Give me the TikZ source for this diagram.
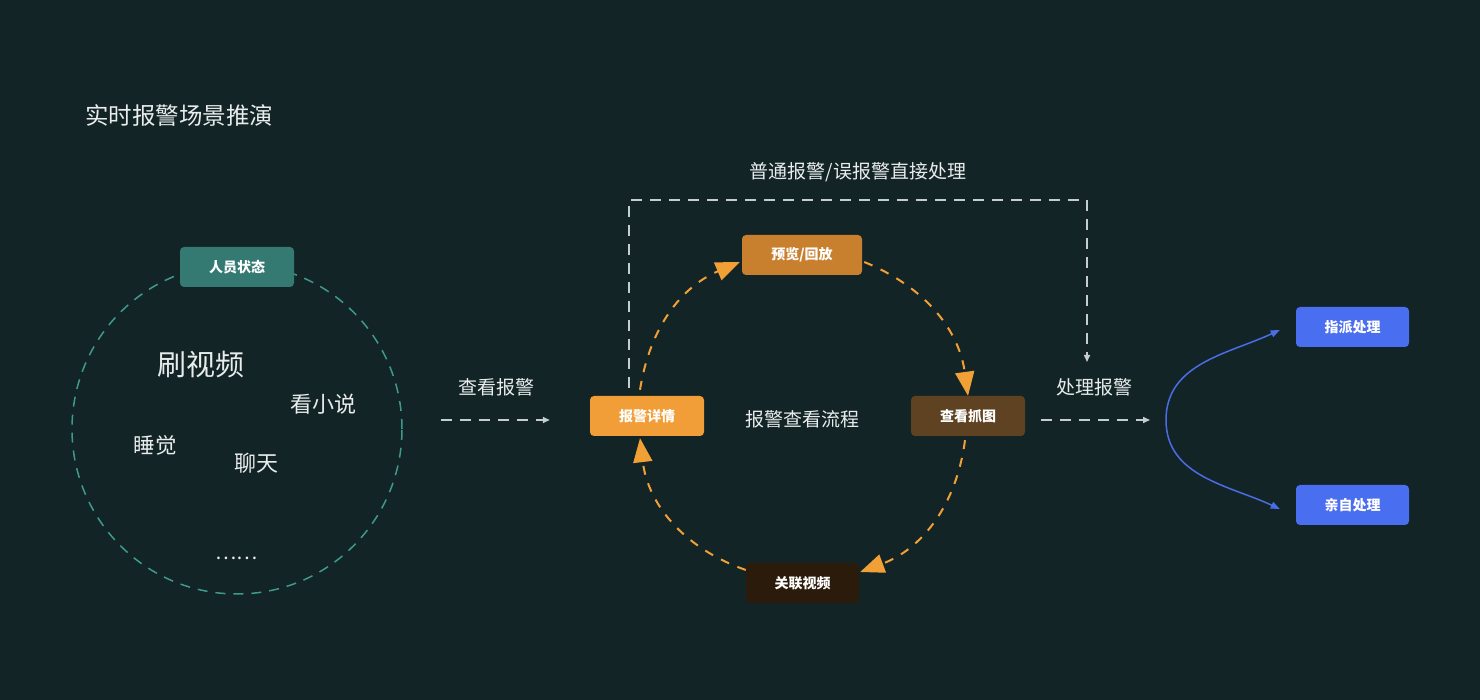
\documentclass[tikz,border=0pt]{standalone}
\usepackage{fontspec}
\newfontfamily\cjk{Noto Sans CJK SC}
\usetikzlibrary{arrows.meta,calc}
\definecolor{bgc}{RGB}{19,36,39}
\definecolor{txt}{RGB}{232,236,236}
\definecolor{ringc}{RGB}{62,154,138}
\definecolor{tealbox}{RGB}{52,122,114}
\definecolor{orline}{RGB}{240,160,53}
\definecolor{detailc}{RGB}{242,158,56}
\definecolor{previewc}{RGB}{201,128,46}
\definecolor{snapc}{RGB}{94,66,33}
\definecolor{videoc}{RGB}{43,27,11}
\definecolor{greyd}{RGB}{197,205,208}
\definecolor{bluec}{RGB}{74,110,240}
\definecolor{bluel}{RGB}{74,108,230}
\newcommand\fsz[1]{\fontsize{#1}{#1}\selectfont}
\tikzset{
  box/.style={rectangle, rounded corners=4pt, minimum width=114pt, minimum height=40pt,
    inner sep=0pt, text=white, font=\cjk\bfseries\fsz{14}},
  lbl/.style={text=txt, inner sep=0pt},
  orarrow/.style={draw=orline, line width=2pt, dash pattern=on 9pt off 9pt,
    -{Triangle[length=24pt,width=19pt]}},
  greydash/.style={draw=greyd, line width=1.5pt, dash pattern=on 11pt off 8pt,
    -{Triangle[length=7pt,width=6pt]}},
  bluearr/.style={draw=bluel, line width=1.5pt, -{Triangle[length=9pt,width=7pt]}}
}
\begin{document}
\begin{tikzpicture}[x=1pt,y=1pt]
\fill[bgc] (0,0) rectangle (1480,700);
\useasboundingbox (0,0) rectangle (1480,700);

% title
\node[lbl, font=\cjk\fsz{23.5}] (title) at (179,584) {实时报警场景推演};

% left ring
\node[circle, draw=ringc, line width=1.5pt, dash pattern=on 10pt off 8pt,
  minimum size=330pt, inner sep=0pt] (ring) at (237,271) {};
\node[box, fill=tealbox] (state) at (237,433) {人员状态};
\node[lbl, font=\cjk\fsz{29}] (brush) at (201,335) {刷视频};
\node[lbl, font=\cjk\fsz{22}] (novel) at (323,296) {看小说};
\node[lbl, font=\cjk\fsz{21.5}] (sleep) at (155,255) {睡觉};
\node[lbl, font=\cjk\fsz{22}] (chat) at (256,237) {聊天};
\node[lbl, font=\cjk\fsz{20}] (more) at (236.5,142) {……};

% cycle
\node[box, fill=detailc] (d) at (647,284) {报警详情};
\node[box, fill=previewc, minimum width=120pt] (p) at (802,445) {预览/回放};
\node[box, fill=snapc] (g) at (968,284) {查看抓图};
\node[box, fill=videoc, minimum width=113pt] (v) at (802.5,117) {关联视频};
\node[lbl, font=\cjk\fsz{19}] (flow) at (802,281) {报警查看流程};

\draw[orarrow] ($(d.north)+(-7,6)$) to[bend left=29] ($(p.west)+(-2,-7)$);
\draw[orarrow] ($(p.east)+(2,-7)$) to[bend left=30] (g.north);
\draw[orarrow] ($(g.south)+(-3,-4)$) to[bend left=31] ($(v.east)+(1,11)$);
\draw[orarrow] ($(v.west)+(0,13)$) to[bend left=32] ($(d.south)+(-7,-2)$);

% view alarm arrow
\node[lbl, font=\cjk\fsz{19}] (view) at (496,313) {查看报警};
\draw[greydash] ($(ring.east)+(38,9)$) -- ($(d.west)+(-40,-4)$);

% top bypass
\node[lbl, font=\cjk\fsz{19}] (bypass) at (858,528) {普通报警/误报警直接处理};
\node[lbl, font=\cjk\fsz{19}] (handle) at (1094,313) {处理报警};
\coordinate (c1) at (629,500);
\coordinate (c2) at (1087,500);
\coordinate (hend) at (1087,338);
\draw[greydash] ($(d.north)+(-18,8)$) -- (c1) -- (c2) -- (hend);

% handle arrow
\coordinate (fork) at (1166,280);
\draw[greydash] ($(g.east)+(16,-4)$) -- ($(fork)+(-16,0)$);

% branches
\node[box, fill=bluec, minimum width=113pt] (assign) at (1352.5,373) {指派处理};
\node[box, fill=bluec, minimum width=113pt] (self) at (1352.5,195) {亲自处理};
\draw[bluearr] (fork) to[out=90,in=205] ($(assign.west)+(-16,-3)$);
\draw[bluearr] (fork) to[out=-90,in=155] ($(self.west)+(-16,-4)$);
\end{tikzpicture}
\end{document}
